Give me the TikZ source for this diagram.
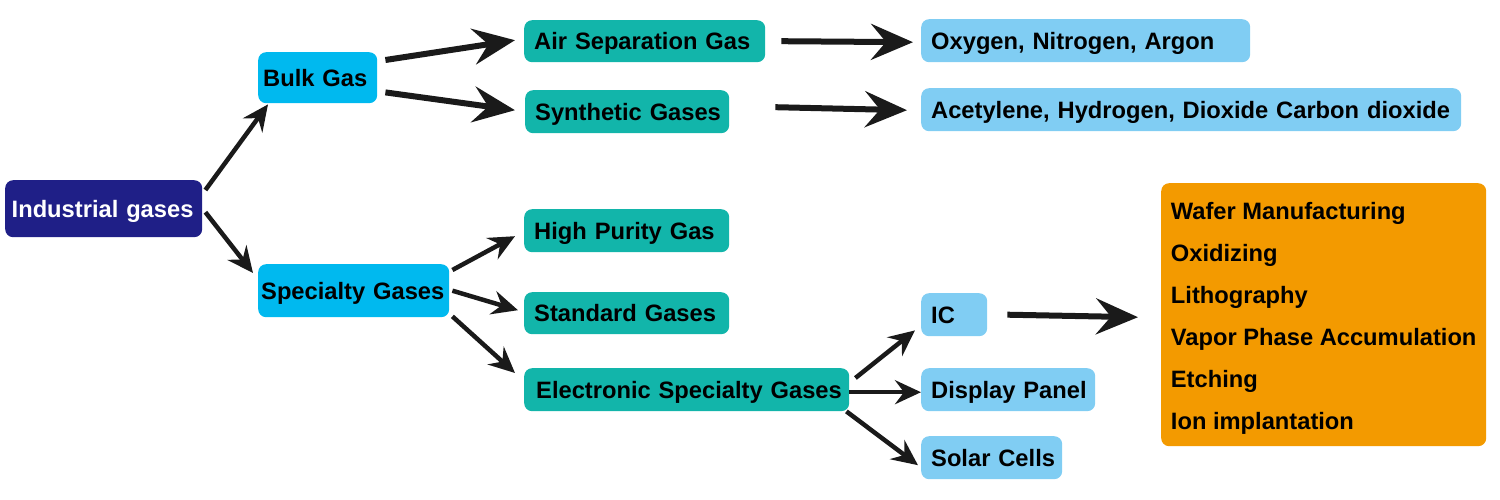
\documentclass[tikz,border=0pt]{standalone}
\usepackage{fontspec}
\setmainfont{Liberation Sans}
\usetikzlibrary{arrows.meta,calc}
\definecolor{navy}{HTML}{1F1F87}
\definecolor{cyanbox}{HTML}{00B9EF}
\definecolor{tealbox}{HTML}{12B5AA}
\definecolor{skybox}{HTML}{80CDF3}
\definecolor{orangebox}{HTML}{F39A00}
\definecolor{arrowblack}{HTML}{1A1A1A}
\newcommand{\oneline}[1]{\mbox{#1}}
\tikzstyle{box} = [rounded corners=8pt, anchor=north west, align=left, inner xsep=10pt,
  text height=20pt, text depth=2.8pt, font=\fontsize{23.7}{28}\selectfont\bfseries]
\tikzstyle{bigarrow} = [draw=arrowblack, line width=6pt,
  -{Stealth[length=42pt,width=36pt,inset=15pt]}]
\tikzstyle{smallarrow} = [draw=arrowblack, line width=4.5pt,
  -{Stealth[length=26pt,width=24pt,inset=9pt]}]

\begin{document}
\begin{tikzpicture}[x=1pt,y=-1pt]
\useasboundingbox (0,0) rectangle (1500,500);

% boxes
\node[box, fill=navy, text=white, inner xsep=6.5pt, text width=184pt, minimum height=57pt] (ind) at (5,180) {\oneline{Industrial gases}};
\node[box, fill=cyanbox, inner xsep=5pt, text width=109pt, minimum height=51pt] (bulk) at (258,52) {\oneline{Bulk Gas}};
\node[box, fill=cyanbox, inner xsep=3pt, text width=185pt, minimum height=53pt] (spec) at (258,264) {\oneline{Specialty Gases}};

\node[box, fill=tealbox, text width=221pt, minimum height=42pt] (air) at (524,20) {\oneline{Air Separation Gas}};
\node[box, fill=tealbox, text width=184pt, minimum height=43pt] (syn) at (525,90) {\oneline{Synthetic Gases}};
\node[box, fill=tealbox, text width=185pt, minimum height=43pt] (high) at (524,209) {\oneline{High Purity Gas}};
\node[box, fill=tealbox, text width=185pt, minimum height=42pt] (std) at (524,292) {\oneline{Standard Gases}};
\node[box, fill=tealbox, inner xsep=12pt, text width=301pt, minimum height=43pt] (ele) at (524,368) {\oneline{Electronic Specialty Gases}};

\node[box, fill=skybox, text width=309pt, minimum height=43pt] (oxy) at (921,19) {\oneline{Oxygen, Nitrogen, Argon}};
\node[box, fill=skybox, text width=520pt, minimum height=43pt] (ace) at (921,88) {\oneline{Acetylene, Hydrogen, Dioxide Carbon dioxide}};
\node[box, fill=skybox, text width=46pt, minimum height=43pt] (ic) at (921,293) {\oneline{IC}};
\node[box, fill=skybox, text width=154pt, minimum height=43pt] (dis) at (921,368) {\oneline{Display Panel}};
\node[box, fill=skybox, text width=121pt, minimum height=43pt] (sol) at (921,436) {\oneline{Solar Cells}};

\node[box, fill=orangebox, inner xsep=8pt, minimum width=325pt, minimum height=263pt,
  text height=235pt, text depth=5pt, font=\fontsize{23.7}{42}\selectfont\bfseries] (proc) at (1161,183)
  {Wafer Manufacturing\\Oxidizing\\Lithography\\Vapor Phase Accumulation\\Etching\\Ion implantation};

% arrows
\draw[smallarrow] ($(ind.north east)+(3,10)$) -- ($(bulk.south west)+(10,1)$);
\draw[smallarrow] ($(ind.east)+(3,3.5)$) -- ($(spec.north west)+(-5,9)$);

\draw[bigarrow] ($(bulk.north east)+(8,8)$) -- ($(air.west)+(-9,-1)$);
\draw[bigarrow] ($(bulk.south east)+(8,-11)$) -- ($(syn.west)+(-10,-1.5)$);
\draw[bigarrow] ($(air.east)+(16,0)$) -- ($(oxy.west)+(-8,1.5)$);
\draw[bigarrow] ($(syn.east)+(46,-4.5)$) -- ($(ace.west)+(-14,0.5)$);

\draw[smallarrow] ($(spec.north east)+(3,6)$) -- ($(high.west)+(-9,5.5)$);
\draw[smallarrow] ($(spec.east)+(3,0)$) -- ($(std.west)+(-6,-3)$);
\draw[smallarrow] ($(spec.south east)+(3,-1)$) -- ($(ele.north west)+(-9,5)$);

\draw[smallarrow] ($(ele.north east)+(6,10)$) -- ($(ic.south west)+(-6,-6)$);
\draw[smallarrow] ($(ele.east)+(0,2.5)$) -- ($(dis.west)+(0,2.5)$);
\draw[smallarrow] ($(ele.south east)+(-3,0)$) -- ($(sol.west)+(-3,7.5)$);

\draw[bigarrow] ($(ic.east)+(20,0)$) -- ($(proc.west)+(-23,2.5)$);
\end{tikzpicture}
\end{document}
